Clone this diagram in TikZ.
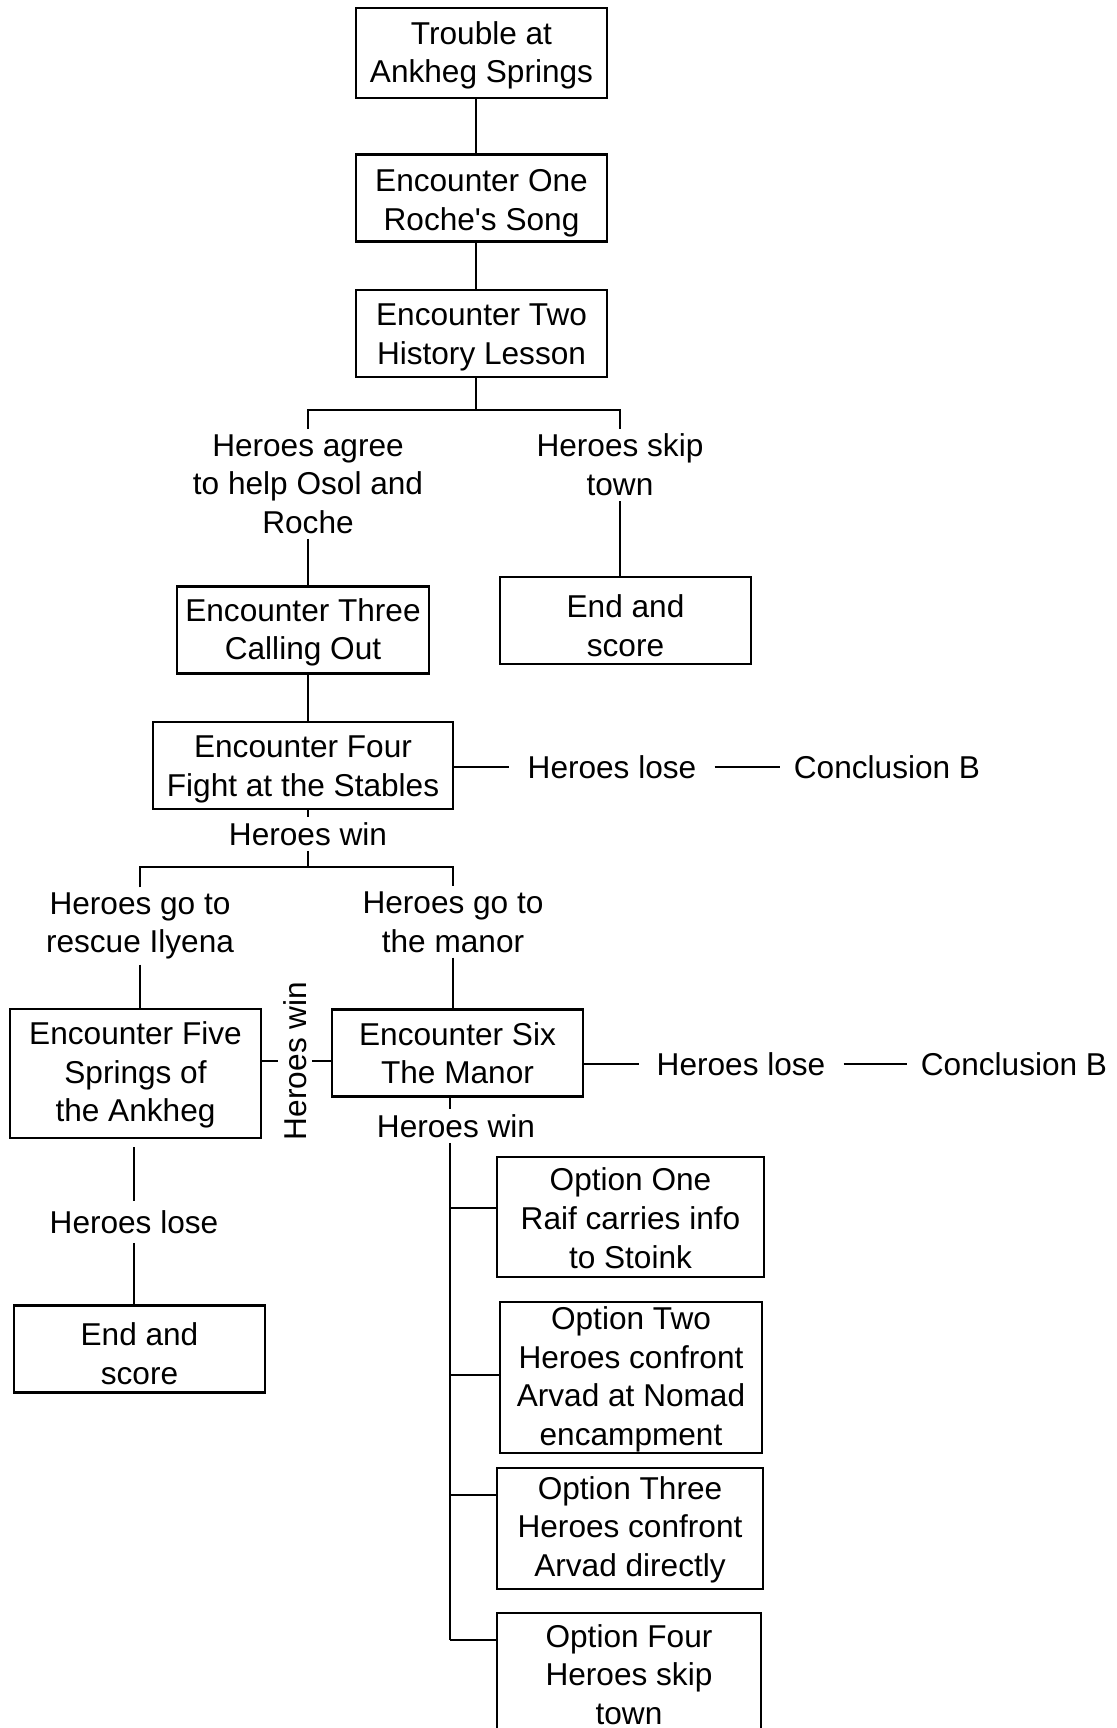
\documentclass[tikz,border=0pt]{standalone}
\usepackage{fontspec}
\setmainfont{Liberation Sans}
\begin{document}
\begin{tikzpicture}[x=0.5pt,y=-0.5pt,font=\fontsize{15.8pt}{19.3pt}\selectfont,line width=1.2pt,
box/.style={draw,align=center,inner sep=0pt,text height=34pt,minimum width=125.5pt,minimum height=43.5pt},
box3/.style={box,text height=51.2pt},
lbl/.style={align=center,inner xsep=3.5pt,inner ysep=2pt},
lose/.style={inner xsep=8.5pt,inner ysep=4pt},
concl/.style={inner xsep=6.5pt}]
\clip (0,0) rectangle (1117,1728);
\node[box,text height=33pt,minimum height=45pt](t0) at (481.5,53){Trouble at\\Ankheg Springs};
\node[box,text height=35.5pt](e1) at (481.5,198){Encounter One\\Roche\textquotesingle s Song};
\node[box](e2) at (481.5,333.5){Encounter Two\\History Lesson};
\node[lbl](agree) at (308,484){Heroes agree\\to help Osol and\\Roche};
\node[lbl](skip) at (620,465){Heroes skip\\town};
\node[box,text height=33pt,minimum width=126pt](e3) at (303,630){Encounter Three\\Calling Out};
\node[box,text height=36pt](end1) at (625.5,620.5){End and\\score};
\node[box,minimum width=150pt](e4) at (303,765.5){Encounter Four\\Fight at the Stables};
\node[lose](lose1) at (612,767){Heroes lose};
\node[concl](concl1) at (887,767){Conclusion B};
\node[lbl](win1) at (308,834){Heroes win};
\node[lbl](rescue) at (140,926){Heroes go to\\rescue Ilyena};
\node[lbl](manor) at (453,922){Heroes go to\\the manor};
\node[box3,text height=51.5pt,minimum height=64.5pt](e5) at (135.5,1073.5){Encounter Five\\Springs of\\the Ankheg};
\node[box,text height=31pt](e6) at (457.5,1053){Encounter Six\\The Manor};
\node[lbl,rotate=90](win2) at (295,1061){Heroes win};
\node[lose](lose2) at (741,1064){Heroes lose};
\node[concl](concl2) at (1014,1064){Conclusion B};
\node[lbl](win3) at (456,1126){Heroes win};
\node[lose](lose3) at (134,1222){Heroes lose};
\node[box,text height=35.5pt](end2) at (139.5,1349){End and\\score};
\node[box3,minimum width=133.5pt,minimum height=60pt](o1) at (630.5,1217){Option One\\Raif carries info\\to Stoink};
\node[box,text height=71pt,minimum width=131pt,minimum height=75.5pt](o2) at (631,1377.5){Option Two\\Heroes confront\\Arvad at Nomad\\encampment};
\node[box3,minimum width=133pt,minimum height=60.5pt](o3) at (630,1528.5){Option Three\\Heroes confront\\Arvad directly};
\node[box3,text height=51.6pt,minimum width=132pt,minimum height=60pt](o4) at (629,1673){Option Four\\Heroes skip\\town};
\coordinate (s1) at (476,410);
\coordinate (s2) at (308,867);
\foreach \i/\y in {1/1208,2/1375,3/1495,4/1640} \coordinate (b\i) at (450,\y);
\draw ([xshift=-2.75pt]t0.south) -- ([xshift=-2.75pt]e1.north);
\draw ([xshift=-2.75pt]e1.south) -- ([xshift=-2.75pt]e2.north);
\draw ([xshift=-2.75pt]e2.south) -- (s1);
\draw (agree.north) |- (s1) -| (skip.north);
\draw (agree.south) -- (agree.south |- e3.north);
\draw (e3.south -| agree) -- (e4.north -| agree);
\draw (skip.south) -- (skip.south |- end1.north);
\draw (e4.east |- lose1) -- (lose1.west);
\draw (lose1.east) -- (concl1.west);
\draw (e4.south -| win1) -- (win1.north);
\draw (win1.south) -- (s2);
\draw (rescue.north) |- (s2) -| (manor.north);
\draw (rescue.south) -- (rescue.south |- e5.north);
\draw (manor.south) -- (manor.south |- e6.north);
\draw (e5.east |- win2) -- (win2.north);
\draw (win2.south) -- (e6.west |- win2);
\draw (e6.east |- lose2) -- (lose2.west);
\draw (lose2.east) -- (concl2.west);
\draw (e6.south -| b1) -- (win3.north -| b1);
\draw (win3.south -| b1) -- (b4);
\foreach \i in {1,...,4} \draw (b\i) -- (b\i -| o\i.west);
\draw[shorten <=4pt] (e5.south -| lose3) -- (lose3.north);
\draw (lose3.south) -- (lose3.south |- end2.north);
\end{tikzpicture}
\end{document}
